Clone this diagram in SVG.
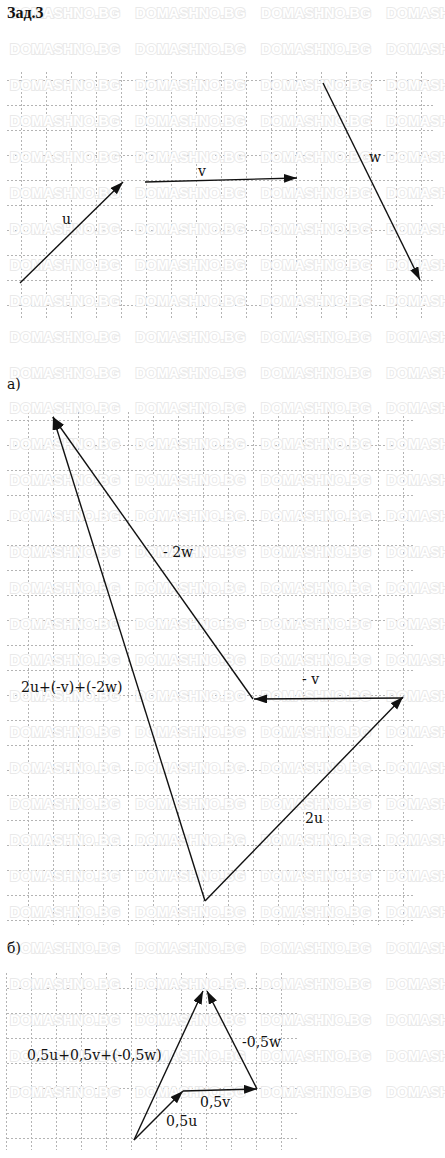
<svg xmlns="http://www.w3.org/2000/svg" width="445" height="1158" viewBox="0 0 445 1158">
<style>
.grid{fill:none;stroke:#b4b4b4;stroke-width:1;stroke-dasharray:2 2}
.wm{font-family:"Liberation Sans",Arial,sans-serif;font-weight:bold;font-size:14px;fill:#ffffff;stroke:#e9e9e9;stroke-width:1.8px;paint-order:stroke}
.vec{fill:none;stroke:#111;stroke-width:1.4;marker-end:url(#ah)}
.lbl{font-family:"DejaVu Serif","Liberation Serif",serif;font-size:14px;fill:#111}
.ttl{font-family:"Liberation Serif","DejaVu Serif",serif;font-size:16px;font-weight:bold;fill:#111}
</style>
<defs>
<marker id="ah" markerUnits="userSpaceOnUse" markerWidth="14" markerHeight="10" refX="13" refY="4.5" orient="auto">
<path d="M0,0 L13,4.5 L0,9 z" fill="#111"/>
</marker>
<g id="wm">
<text class="wm" x="10" y="0" textLength="110" lengthAdjust="spacingAndGlyphs">DOMASHNO.BG</text>
<text class="wm" x="135.5" y="0" textLength="110" lengthAdjust="spacingAndGlyphs">DOMASHNO.BG</text>
<text class="wm" x="261" y="0" textLength="110" lengthAdjust="spacingAndGlyphs">DOMASHNO.BG</text>
<text class="wm" x="386.5" y="0" textLength="110" lengthAdjust="spacingAndGlyphs">DOMASHNO.BG</text>
</g>
</defs>
<rect width="445" height="1158" fill="#fff"/>
<g id="grids">
<path class="grid" d="M21.5 72V320M46.5 72V320M71.5 72V320M96.5 72V320M121.5 72V320M146.5 72V320M171.5 72V320M196.5 72V320M221.5 72V320M246.5 72V320M271.5 72V320M296.5 72V320M321.5 72V320M346.5 72V320M371.5 72V320M396.5 72V320M421.5 72V320M7 80.5H433M7 105.5H433M7 130.5H433M7 155.5H433M7 180.5H433M7 205.5H433M7 230.5H433M7 255.5H433M7 280.5H433M7 305.5H433"/>
<path class="grid" d="M28.5 412V925M53.5 412V925M78.5 412V925M103.5 412V925M128.5 412V925M153.5 412V925M178.5 412V925M203.5 412V925M228.5 412V925M253.5 412V925M278.5 412V925M303.5 412V925M328.5 412V925M353.5 412V925M378.5 412V925M403.5 412V925M7 420.5H415M7 445.5H415M7 470.5H415M7 495.5H415M7 520.5H415M7 545.5H415M7 570.5H415M7 595.5H415M7 620.5H415M7 645.5H415M7 670.5H415M7 695.5H415M7 720.5H415M7 745.5H415M7 770.5H415M7 795.5H415M7 820.5H415M7 845.5H415M7 870.5H415M7 895.5H415M7 920.5H415"/>
<path class="grid" d="M6.5 973V1150M31.5 973V1150M56.5 973V1150M81.5 973V1150M106.5 973V1150M131.5 973V1150M156.5 973V1150M181.5 973V1150M206.5 973V1150M231.5 973V1150M256.5 973V1150M281.5 973V1150M7 988.5H297M7 1013.5H297M7 1038.5H297M7 1063.5H297M7 1088.5H297M7 1113.5H297M7 1138.5H297"/>
</g>
<g id="watermark">
<use href="#wm" y="18"/><use href="#wm" y="53.95"/><use href="#wm" y="89.9"/><use href="#wm" y="125.85"/><use href="#wm" y="161.8"/><use href="#wm" y="197.75"/><use href="#wm" y="233.7"/><use href="#wm" y="269.65"/><use href="#wm" y="305.6"/><use href="#wm" y="341.55"/><use href="#wm" y="377.5"/><use href="#wm" y="413.45"/><use href="#wm" y="449.4"/><use href="#wm" y="485.35"/><use href="#wm" y="521.3"/><use href="#wm" y="557.25"/><use href="#wm" y="593.2"/><use href="#wm" y="629.15"/><use href="#wm" y="665.1"/><use href="#wm" y="701.05"/><use href="#wm" y="737"/><use href="#wm" y="772.95"/><use href="#wm" y="808.9"/><use href="#wm" y="844.85"/><use href="#wm" y="880.8"/><use href="#wm" y="916.75"/><use href="#wm" y="952.7"/><use href="#wm" y="988.65"/><use href="#wm" y="1024.6"/><use href="#wm" y="1060.55"/><use href="#wm" y="1096.5"/>
</g>
<text class="ttl" x="7" y="18">Зад.3</text>
<g id="connectors">
<line id="vec-u" class="vec" x1="20" y1="283" x2="123" y2="182"/>
<line id="vec-v" class="vec" x1="145" y1="182" x2="297" y2="178"/>
<line id="vec-w" class="vec" x1="323" y1="83" x2="420" y2="280"/>
<line id="vec-m2w" class="vec" x1="253" y1="699" x2="53" y2="417"/>
<line id="vec-mv" class="vec" x1="403" y1="698" x2="254" y2="699"/>
<line id="vec-2u" class="vec" x1="205" y1="901" x2="403" y2="697"/>
<line id="vec-suma" class="vec" x1="205" y1="901" x2="53" y2="417"/>
<line id="vec-05u" class="vec" x1="134" y1="1140" x2="183" y2="1091"/>
<line id="vec-05v" class="vec" x1="183" y1="1091" x2="257" y2="1089"/>
<line id="vec-m05w" class="vec" x1="257" y1="1089" x2="207" y2="991"/>
<line id="vec-sumb" class="vec" x1="134" y1="1140" x2="203" y2="991"/>
</g>
<g id="labels">
<text class="lbl" x="62" y="224">u</text>
<text class="lbl" x="198" y="175.5">v</text>
<text class="lbl" x="369" y="162">w</text>
<text class="lbl" x="7" y="389">а)</text>
<text class="lbl" x="163" y="557">- 2w</text>
<text class="lbl" x="302" y="684">- v</text>
<text class="lbl" x="21" y="691.5">2u+(-v)+(-2w)</text>
<text class="lbl" x="305" y="823">2u</text>
<text class="lbl" x="7" y="953">б)</text>
<text class="lbl" x="242" y="1047">-0,5w</text>
<text class="lbl" x="27" y="1060">0,5u+0,5v+(-0,5w)</text>
<text class="lbl" x="200" y="1107">0,5v</text>
<text class="lbl" x="166" y="1126">0,5u</text>
</g>
</svg>
